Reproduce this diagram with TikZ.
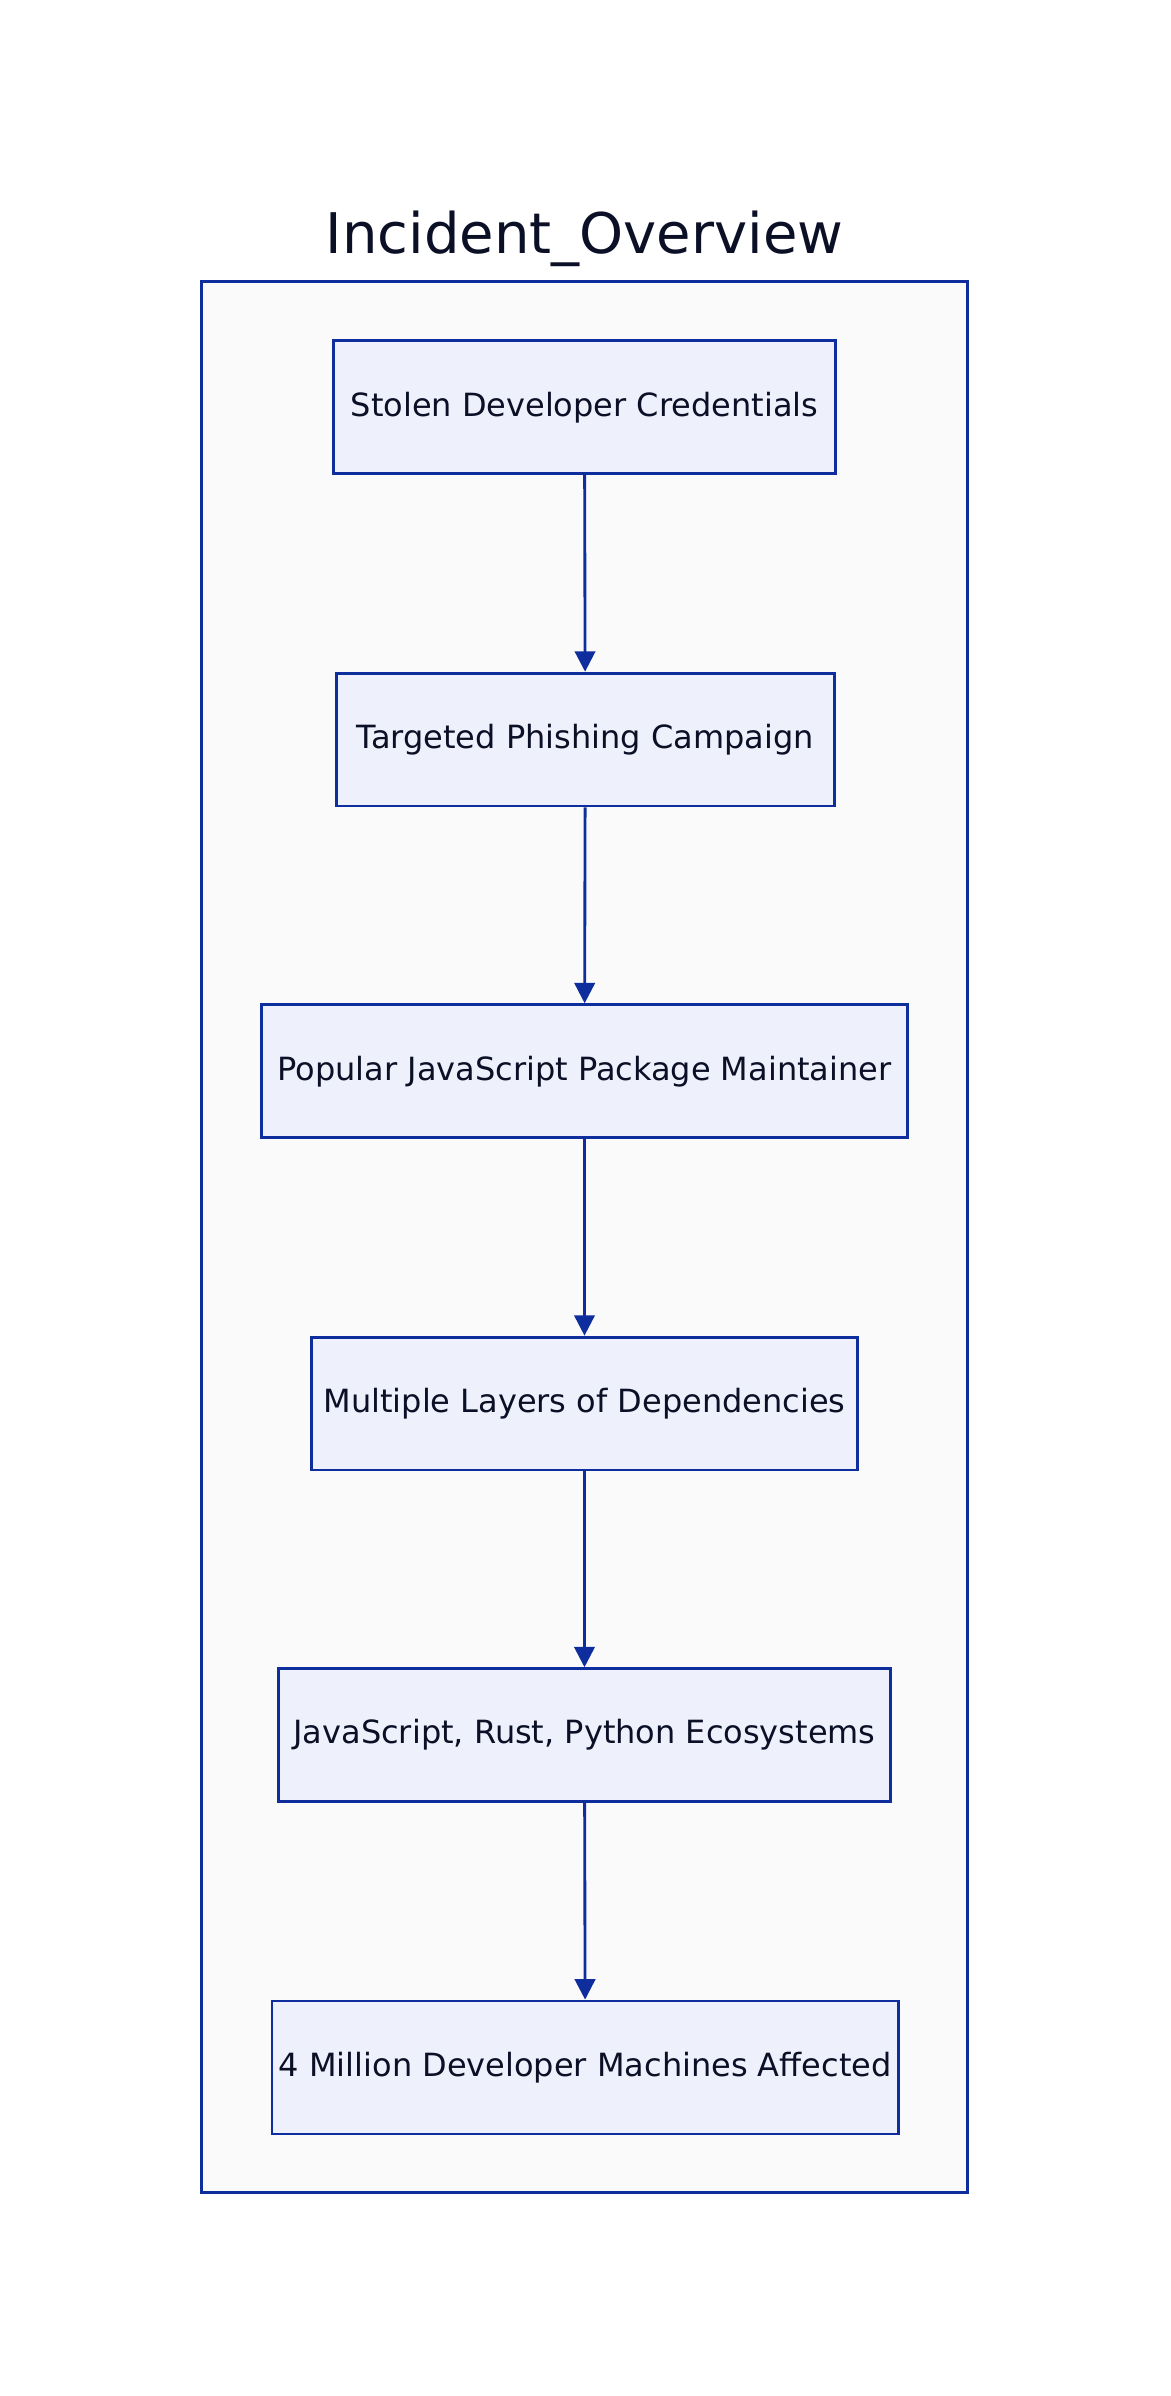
\documentclass[tikz,border=0pt]{standalone}
\usepackage{fontspec}
\setmainfont{DejaVu Sans}
\usetikzlibrary{arrows.meta}
\definecolor{edge}{HTML}{0F2E9E}
\definecolor{boxfill}{HTML}{EEF0FB}
\definecolor{txt}{HTML}{0B1026}
\begin{document}
\begin{tikzpicture}[x=0.75pt,y=-0.75pt,
  box/.style={draw=edge,line width=1.4pt,fill=boxfill,minimum height=87*0.75pt,inner sep=0pt,font=\fontsize{15.7}{18}\selectfont,text=txt},
  arr/.style={draw=edge,line width=1.4pt,-{Triangle[length=10pt,width=10pt]}}]
\useasboundingbox (0,0) rectangle (766,1568);
\fill[white] (0,0) rectangle (766,1568);
\node[draw=edge,line width=1.4pt,fill=black!2,minimum width=501*0.75pt,minimum height=1251*0.75pt,inner sep=0pt] (cont) at (382.5,809.5) {};
\node[text=txt,font=\fontsize{27.5}{30}\selectfont] (title) at (382.5,156) {Incident\_Overview};
\node[box,minimum width=329*0.75pt] (a) at (382.5,266.5) {Stolen Developer Credentials};
\node[box,minimum width=326*0.75pt] (b) at (383,484) {Targeted Phishing Campaign};
\node[box,minimum width=423*0.75pt] (c) at (382.5,701) {Popular JavaScript Package Maintainer};
\node[box,minimum width=357*0.75pt] (d) at (382.5,918.5) {Multiple Layers of Dependencies};
\node[box,minimum width=401*0.75pt] (e) at (382.5,1135.5) {JavaScript, Rust, Python Ecosystems};
\node[box,minimum width=410*0.75pt] (f) at (383,1353) {4 Million Developer Machines Affected};
\draw[arr] (a) -- (b);
\draw[arr] (b) -- (c);
\draw[arr] (c) -- (d);
\draw[arr] (d) -- (e);
\draw[arr] (e) -- (f);
\end{tikzpicture}
\end{document}
